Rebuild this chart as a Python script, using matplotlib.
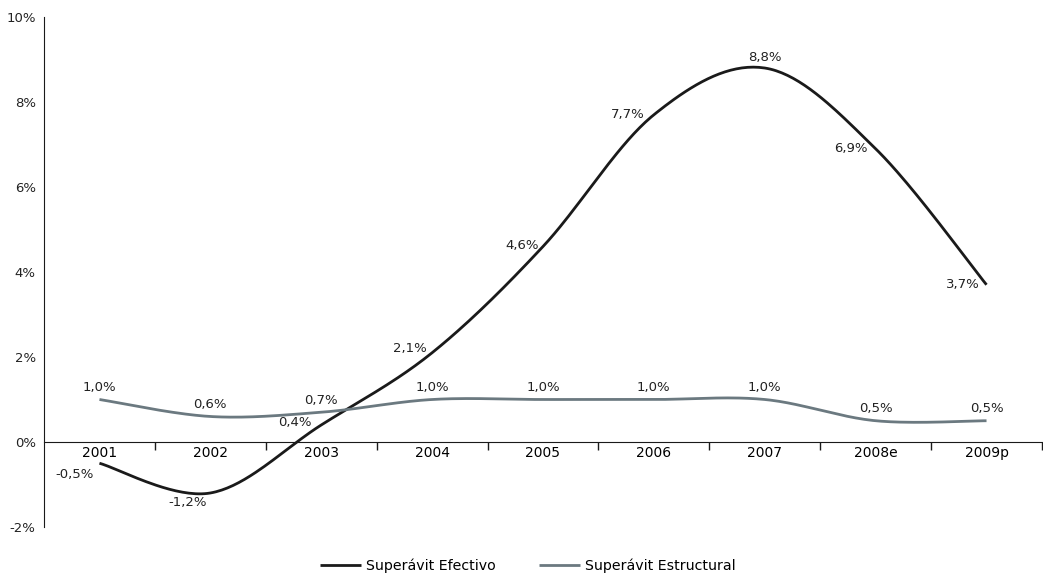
import numpy as np
import matplotlib
matplotlib.use("Agg")
import matplotlib.pyplot as plt

years = ["2001", "2002", "2003", "2004", "2005", "2006", "2007", "2008e", "2009p"]
efectivo = [-0.5, -1.2, 0.4, 2.1, 4.6, 7.7, 8.8, 6.9, 3.7]
estructural = [1.0, 0.6, 0.7, 1.0, 1.0, 1.0, 1.0, 0.5, 0.5]

# label offsets in pixels (dx, dy) for the effective series
ef_offsets = [(-25, -11), (-23, -10), (-26, 2), (-22, 4), (-21, 1),
              (-26, 0), (0, 11), (-25, 0), (-24, 0)]

BLACK = "#1a1a1a"
GREY = "#6b7980"


def smooth(x, y, n=40):
    """Catmull-Rom style smoothing through every point (like a spreadsheet smoothed line)."""
    x = np.asarray(x, float); y = np.asarray(y, float)
    px = np.concatenate([[x[0]], x, [x[-1]]])
    py = np.concatenate([[y[0]], y, [y[-1]]])
    xs, ys = [], []
    t = np.linspace(0, 1, n)
    for i in range(1, len(px) - 2):
        p0, p1, p2, p3 = (np.array([px[j], py[j]]) for j in (i - 1, i, i + 1, i + 2))
        c1 = p1 + (p2 - p0) / 6.0
        c2 = p2 - (p3 - p1) / 6.0
        b = ((1 - t) ** 3)[:, None] * p1 + (3 * (1 - t) ** 2 * t)[:, None] * c1 \
            + (3 * (1 - t) * t ** 2)[:, None] * c2 + (t ** 3)[:, None] * p2
        xs.append(b[:, 0]); ys.append(b[:, 1])
    return np.concatenate(xs), np.concatenate(ys)


fig = plt.figure(figsize=(10.43, 5.75), dpi=100)
ax = fig.add_axes([0.0422, 0.0835, 0.9568, 0.8869])

xi = np.arange(len(years))
sx, sy = smooth(xi, efectivo)
ax.plot(sx, sy, color=BLACK, lw=2.0, label="Superávit Efectivo", solid_capstyle="butt")
gx, gy = smooth(xi, estructural)
ax.plot(gx, gy, color=GREY, lw=2.0, label="Superávit Estructural", solid_capstyle="butt")

fmt = lambda v: f"{v:.1f}%".replace(".", ",")
for x, v, (dx, dy) in zip(xi, efectivo, ef_offsets):
    ax.annotate(fmt(v), (x, v), xytext=(dx, dy), textcoords="offset pixels",
                ha="center", va="center", fontsize=9.5, color="#222222")
for x, v in zip(xi, estructural):
    ax.annotate(fmt(v), (x, v), xytext=(0, 12), textcoords="offset pixels",
                ha="center", va="center", fontsize=9.5, color="#222222")

ax.set_xlim(-0.5, len(years) - 0.5)
ax.set_ylim(-2, 10)
ax.set_yticks(np.arange(-2, 11, 2))
ax.set_yticklabels([f"{v}%" for v in range(-2, 11, 2)], fontsize=9.5, color="#222222")
ax.tick_params(axis="y", length=0, pad=6)

ax.set_xticks(np.arange(0.5, len(years), 1.0))
ax.set_xticklabels([])
ax.tick_params(axis="x", which="major", direction="out", length=6, width=1, color=BLACK)
ax.set_xticks(xi, minor=True)
ax.set_xticklabels(years, minor=True, fontsize=9.5, color="#222222")
ax.tick_params(axis="x", which="minor", length=0, pad=3)

ax.spines["top"].set_visible(False)
ax.spines["right"].set_visible(False)
ax.spines["bottom"].set_position(("data", 0))
ax.spines["bottom"].set_color(BLACK)
ax.spines["left"].set_color(BLACK)

fig.legend(loc="lower center", ncol=2, frameon=False, fontsize=10.2,
           handlelength=2.9, handletextpad=0.35, columnspacing=3.1,
           bbox_to_anchor=(0.506, -0.018))

fig.savefig("out.png", dpi=100)
